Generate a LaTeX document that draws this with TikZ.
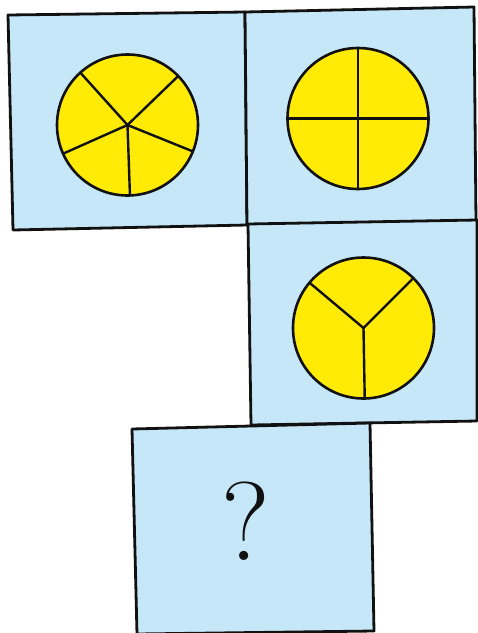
\documentclass[tikz,border=0pt]{standalone}
\usepackage{tikz}
\usetikzlibrary{calc}
\definecolor{ink}{HTML}{111111}
\definecolor{sky}{HTML}{C6E7F8}
\definecolor{lemon}{HTML}{FFEB05}
\tikzset{
  every node/.style={inner sep=0pt,outer sep=0pt},
  tile/.style={fill=sky,draw=ink,line width=2.8pt,line join=round},
  disc/.style={circle,fill=lemon,draw=ink,line width=2.6pt,minimum size=141pt},
  spoke/.style={draw=ink,line width=2.4pt,line cap=round},
  ask/.style={font=\fontsize{112}{112}\selectfont,text=ink},
}

\begin{document}
\begin{tikzpicture}[x=1pt,y=-1pt]
\path[use as bounding box] (0,0) rectangle (478,633);
\fill[white] (0,0) rectangle (478,633);
% The four tiles, slightly hand-drawn, each one a four-cornered outline.
\draw[tile] (8,15) -- (245,12) -- (247,225) -- (13,230) -- cycle;
\draw[tile] (245,12) -- (474,7) -- (476,221) -- (247,225) -- cycle;
\draw[tile] (248,224) -- (477,220) -- (477,421) -- (251,425) -- cycle;
\draw[tile] (132,429) -- (370,423) -- (374,631) -- (137,634) -- cycle;
% Top left: five parts.
\node[disc] (pie5) at (127.5,125) {};
\foreach \a in {132,44,-22,-88,-156}
  \draw[spoke] (pie5.center) -- (pie5.\a);
% Top right: four parts.
\node[disc] (pie4) at (358,118.5) {};
\draw[spoke] (pie4.north) -- (pie4.south);
\draw[spoke] (pie4.west) -- (pie4.east);
% Middle right: three parts.
\node[disc] (pie3) at (363.5,328) {};
\foreach \a in {140,45,-89}
  \draw[spoke] (pie3.center) -- (pie3.\a);
% Bottom: the missing one.
\node[ask] (query) at (246,521) {?};
\end{tikzpicture}
\end{document}
